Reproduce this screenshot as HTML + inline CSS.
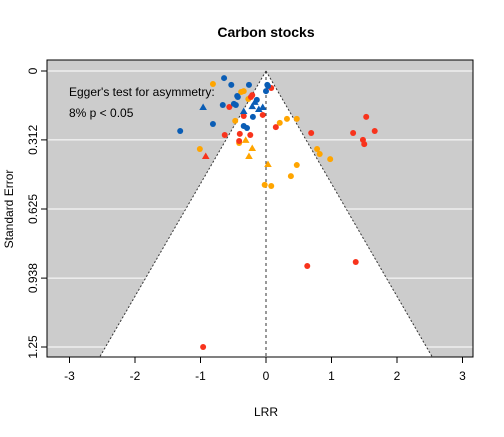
<!DOCTYPE html>
<html><head><meta charset="utf-8"><style>
body{margin:0;background:#fff;font-family:"Liberation Sans",sans-serif}
</style></head><body>
<svg id="c" width="504" height="432" xmlns="http://www.w3.org/2000/svg" font-family="Liberation Sans, sans-serif">
<text x="266" y="37" text-anchor="middle" font-weight="bold" font-size="14">Carbon stocks</text>
<text x="266" y="416" text-anchor="middle" font-size="12">LRR</text>
<text transform="translate(13,209) rotate(-90)" text-anchor="middle" font-size="12">Standard Error</text>
<g id="plot"></g>
</svg>
<script>
const xTicks=[-3,-2,-1,0,1,2,3];
const yTicks=[0,0.312,0.625,0.938,1.25];
const yTickLabels=["0","0.312","0.625","0.938","1.25"];
const blueCircleX=[-0.64,-0.53,-0.26,-0.66,-0.44,-0.43,-0.49,-0.46,-0.81,-1.31,-0.20,-0.34,-0.29,0.02,0.03,0.00,-0.14];
const blueCircleSE=[0.032,0.063,0.063,0.154,0.113,0.118,0.149,0.154,0.240,0.272,0.208,0.249,0.258,0.063,0.068,0.091,0.131];
const blueTriX=[-0.96,-0.34,-0.21,-0.17,-0.11,-0.05];
const blueTriSE=[0.163,0.181,0.159,0.140,0.172,0.163];
const redCircleX=[-0.21,-0.56,-0.34,-0.05,0.08,-0.40,-0.24,-0.63,-0.41,0.15,-0.23,0.69,1.53,1.33,1.66,1.48,1.50,0.63,1.37,-0.96];
const redCircleSE=[0.109,0.163,0.204,0.199,0.077,0.285,0.290,0.290,0.317,0.254,0.118,0.281,0.208,0.281,0.272,0.312,0.331,0.883,0.865,1.250];
const redTriX=[-0.92];
const redTriSE=[0.385];
const orangeCircleX=[-0.81,-0.38,-0.34,-0.27,-0.47,-1.01,-0.41,0.21,0.32,0.47,0.78,0.82,0.98,0.47,0.38,-0.02,0.08];
const orangeCircleSE=[0.059,0.095,0.091,0.127,0.226,0.353,0.326,0.235,0.217,0.217,0.353,0.376,0.399,0.426,0.476,0.516,0.521];
const orangeTriX=[-0.31,-0.21,-0.26,0.03];
const orangeTriSE=[0.312,0.349,0.385,0.421];

const L=47,R=473,T=60,B=357;
const sx=v=>266+v*65.5;
const sy=v=>71+v*220.8;
const NS="http://www.w3.org/2000/svg";
const g=document.getElementById('plot');
function mk(t,a){const e=document.createElementNS(NS,t);for(const k in a)e.setAttribute(k,a[k]);g.appendChild(e);return e;}
let e=mk('rect',{x:L,y:T,width:R-L,height:B-T,fill:'#cccccc'});


yTicks.forEach((t,i)=>{const l=mk('line',{x1:L,x2:R,y1:sy(t),y2:sy(t),stroke:'#fff','stroke-width':1});

});
const seMax=(B-71)/220.8;
const f=mk('polygon',{points:`${sx(0)},${sy(0)} ${sx(-1.96*seMax)},${B} ${sx(1.96*seMax)},${B}`,fill:'#fff'});


[[-1],[1]].forEach(([s])=>{const l=mk('line',{x1:sx(0),y1:sy(0),x2:sx(s*1.96*seMax),y2:B,stroke:'#333','stroke-dasharray':'2,2'});

});
const vl=mk('line',{x1:sx(0),y1:sy(0),x2:sx(0),y2:B,stroke:'#333','stroke-dasharray':'3,3'});


const bx=mk('rect',{x:L,y:T,width:R-L,height:B-T,fill:'none',stroke:'#000'});


xTicks.forEach(t=>{const l=mk('line',{x1:sx(t),x2:sx(t),y1:B,y2:B+6,stroke:'#000'});


const tx=mk('text',{x:sx(t),y:B+23,'text-anchor':'middle','font-size':12});tx.textContent=t;

});
yTicks.forEach((t,i)=>{const l=mk('line',{x1:L-6,x2:L,y1:sy(t),y2:sy(t),stroke:'#000'});


const tx=mk('text',{transform:`translate(${L-10},${sy(t)}) rotate(-90)`,'text-anchor':'middle','font-size':12});tx.textContent=yTickLabels[i];

});
const t1=mk('text',{x:69,y:96,'font-size':12});t1.textContent="Egger's test for asymmetry:";


const t2=mk('text',{x:69,y:117,'font-size':12});t2.textContent="8% p < 0.05";


function circles(xs,ses,col,name){xs.forEach((v,i)=>{const c=mk('circle',{cx:sx(v),cy:sy(ses[i]),r:3,fill:col});

});}
function tris(xs,ses,col,name){xs.forEach((v,i)=>{const x=sx(v),y=sy(ses[i]);const p=mk('polygon',{points:`${x},${y-3.5} ${x-3.8},${y+3} ${x+3.8},${y+3}`,fill:col});

});}
circles(orangeCircleX,orangeCircleSE,'#ffa500','point-orange');
tris(orangeTriX,orangeTriSE,'#ffa500','triangle-orange');
circles(redCircleX,redCircleSE,'#f8331c','point-red');
tris(redTriX,redTriSE,'#f8331c','triangle-red');
circles(blueCircleX,blueCircleSE,'#0a5db5','point-blue');
tris(blueTriX,blueTriSE,'#0a5db5','triangle-blue');
</script>
</body></html>
